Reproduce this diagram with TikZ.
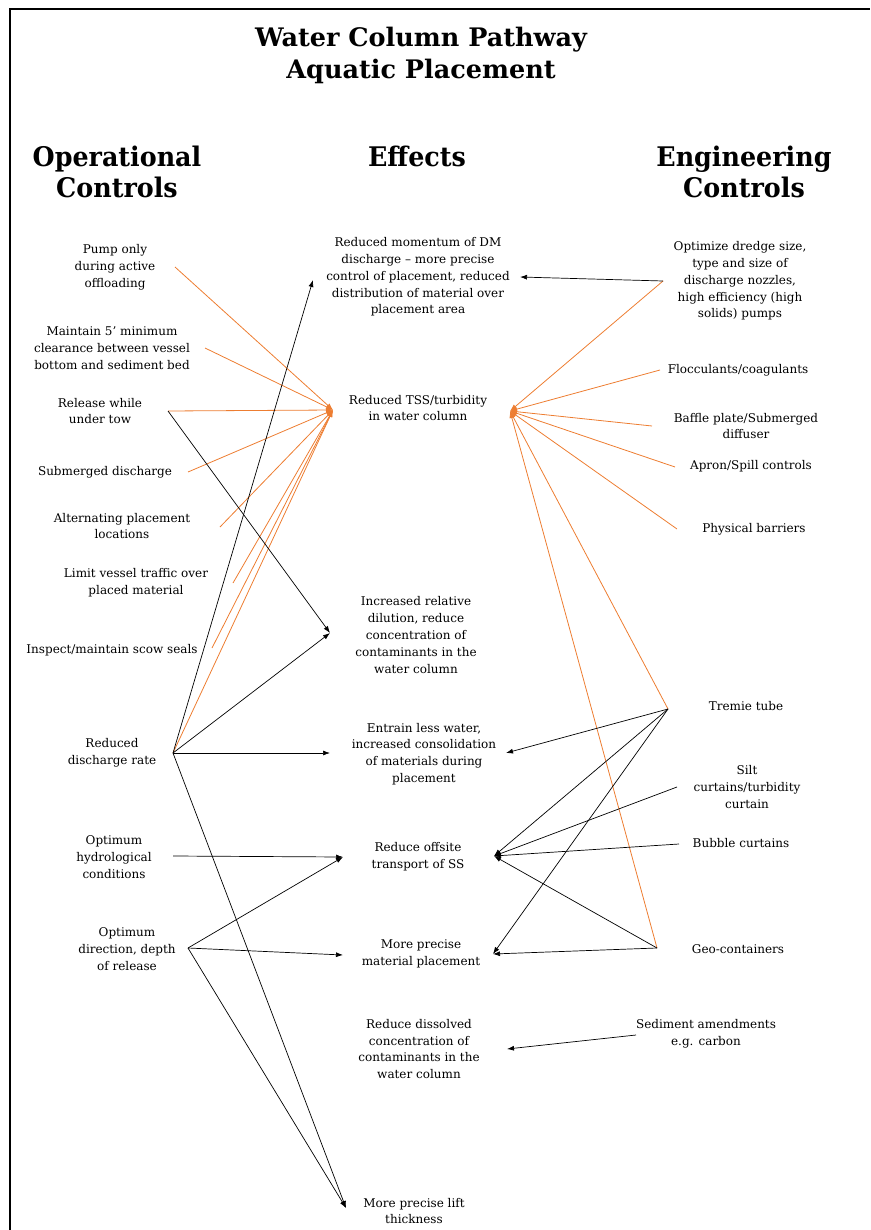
\documentclass[tikz,border=0pt]{standalone}
\usepackage{fontspec}
\setmainfont{DejaVu Serif}
\newfontfamily\hdfont[FakeStretch=0.94]{DejaVu Serif}
\usetikzlibrary{arrows.meta}
\definecolor{orng}{HTML}{ED7D31}
\begin{document}
\begin{tikzpicture}[x=1pt,y=-1pt,
  txt/.style={align=center,font=\fontsize{12}{16.8}\selectfont,inner sep=0pt},
  hd/.style={align=center,font=\hdfont\bfseries\fontsize{27}{31}\selectfont,inner sep=0pt},
  ttl/.style={align=center,font=\bfseries\fontsize{25.5}{32}\selectfont,inner sep=0pt},
  oline/.style={draw=orng,line width=0.8pt},
  bline/.style={draw=black,line width=0.7pt},
  oarr/.style={oline,-{Latex[length=7pt,width=5pt]}},
  barr/.style={bline,-{Latex[length=7pt,width=5pt]}},
]
\useasboundingbox (0,0) rectangle (870,1230);
\coordinate (fb) at (10,1230);
\coordinate (fc) at (10,9);
\coordinate (fr) at (870,9);
\draw[line width=2pt] (fb) -- (fc) -- (fr);

% titles
\node[ttl] (title) at (421,55) {Water Column Pathway\\Aquatic Placement};
\node[hd] (hop) at (117,172) {Operational\\Controls};
\node[hd] (hef) at (417,156) {Effects};
\node[hd] (hen) at (744,172) {Engineering\\Controls};

% left column
\node[txt] (pump) at (115,267) {Pump only\\during active\\offloading};
\node[txt] (maint) at (112,348) {Maintain 5' minimum\\clearance between vessel\\bottom and sediment bed};
\node[txt] (release) at (100,411) {Release while\\under tow};
\node[txt] (subm) at (105,472) {Submerged discharge};
\node[txt] (alt) at (122,526) {Alternating placement\\locations};
\node[txt] (limit) at (136,583) {Limit vessel traffic over\\placed material};
\node[txt] (insp) at (112,650) {Inspect/maintain scow seals};
\node[txt] (red) at (112,753) {Reduced\\discharge rate};
\node[txt] (hydro) at (114,857) {Optimum\\hydrological\\conditions};
\node[txt] (dir) at (127,949) {Optimum\\direction, depth\\of release};

% effects
\node[txt] (e1) at (418,277) {Reduced momentum of DM\\discharge -- more precise\\control of placement, reduced\\distribution  of material over\\placement area};
\node[txt] (e2) at (418,408) {Reduced TSS/turbidity\\in water column};
\node[txt] (e3) at (416,635) {Increased relative\\dilution, reduce\\concentration of\\contaminants in the\\water column};
\node[txt] (e4) at (424,754) {Entrain less water,\\increased consolidation\\of materials during\\placement};
\node[txt] (e5) at (418,857) {Reduce offsite\\transport of SS};
\node[txt] (e6) at (421,954) {More precise\\material placement};
\node[txt] (e7) at (419,1049) {Reduce dissolved\\concentration of\\contaminants in the\\water column};
\node[txt] (e8) at (414,1211) {More precise lift\\thickness};

% engineering
\node[txt] (opt) at (740,281) {Optimize dredge size,\\type and size of\\discharge nozzles,\\high efficiency (high\\solids) pumps};
\node[txt] (floc) at (738,370) {Flocculants/coagulants};
\node[txt] (baff) at (746,426) {Baffle plate/Submerged\\diffuser};
\node[txt] (apron) at (751,466) {Apron/Spill  controls};
\node[txt] (phys) at (754,529) {Physical barriers};
\node[txt] (trem) at (746,706) {Tremie tube};
\node[txt] (silt) at (747,787) {Silt\\curtains/turbidity\\curtain};
\node[txt] (bubb) at (741,843) {Bubble curtains};
\node[txt] (geo) at (738,949) {Geo-containers};
\node[txt] (sed) at (706,1034) {Sediment amendments\\e.g. carbon};

% connection points
\coordinate (pumpP) at (175,267);
\coordinate (maintP) at (205,348);
\coordinate (releaseP) at (168,411);
\coordinate (submP) at (188,472);
\coordinate (altP) at (220,527);
\coordinate (limitP) at (233,583);
\coordinate (inspP) at (212,648);
\coordinate (redP) at (173,753);
\coordinate (hydroP) at (173,856);
\coordinate (dirP) at (188,948);
\coordinate (optP) at (663,281);
\coordinate (flocP) at (660,370);
\coordinate (baffP) at (652,426);
\coordinate (apronP) at (675,467);
\coordinate (physP) at (677,529);
\coordinate (tremP) at (668,709);
\coordinate (siltP) at (677,787);
\coordinate (bubbP) at (679,844);
\coordinate (geoP) at (657,948);
\coordinate (sedP) at (636,1035);

\coordinate (tssL) at (333,410);
\coordinate (tssR) at (510,411);
\coordinate (e1L) at (313,280);
\coordinate (e1R) at (520,277);
\coordinate (e3L) at (330,633);
\coordinate (e4L) at (330,753);
\coordinate (e4R) at (506,753);
\coordinate (e5L) at (343,857);
\coordinate (e5R) at (494,856);
\coordinate (e6L) at (343,955);
\coordinate (e6R) at (493,954);
\coordinate (e7R) at (507,1049);
\coordinate (e8L) at (346,1208);

% orange connectors
\foreach \s in {pumpP,maintP,releaseP,submP,altP,limitP,inspP,redP}
  \draw[oarr] (\s) -- (tssL);
\foreach \s in {optP,flocP,baffP,apronP,physP,tremP,geoP}
  \draw[oarr] (\s) -- (tssR);

% black connectors
\draw[barr] (redP) -- (e1L);
\draw[barr] (releaseP) -- (e3L);
\draw[barr] (redP) -- (e3L);
\draw[barr] (redP) -- (e4L);
\draw[barr] (redP) -- (e8L);
\draw[barr] (hydroP) -- (e5L);
\draw[barr] (dirP) -- (e5L);
\draw[barr] (dirP) -- (e6L);
\draw[barr] (dirP) -- (e8L);
\draw[barr] (optP) -- (e1R);
\draw[barr] (tremP) -- (e4R);
\draw[barr] (tremP) -- (e5R);
\draw[barr] (tremP) -- (e6R);
\draw[barr] (siltP) -- (e5R);
\draw[barr] (bubbP) -- (e5R);
\draw[barr] (geoP) -- (e5R);
\draw[barr] (geoP) -- (e6R);
\draw[barr] (sedP) -- (e7R);
\end{tikzpicture}
\end{document}
